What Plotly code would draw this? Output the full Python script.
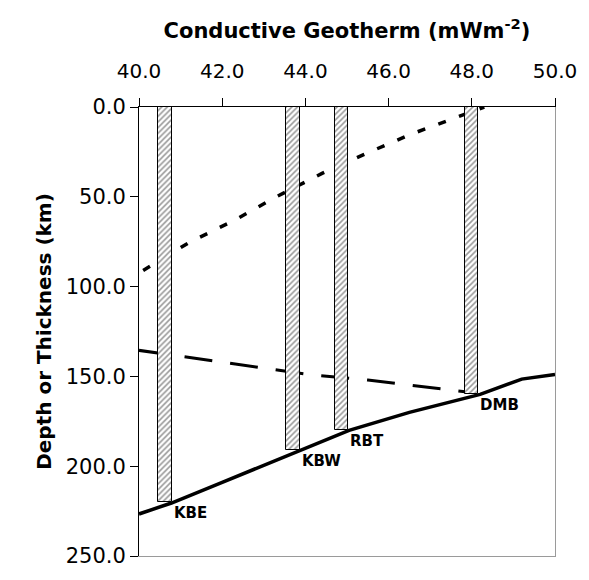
import plotly.graph_objects as go

# Bars (localities): heat flow vs depth
site_names = ["KBE", "KBW", "RBT", "DMB"]
site_heatflow = [40.62, 43.71, 44.87, 47.99]
site_depth = [220.0, 191.0, 180.0, 160.0]

# Solid line
solid_x = [40.0, 40.78, 42.0, 43.9, 45.05, 46.5, 48.2, 49.2, 50.0]
solid_y = [226.6, 220.5, 209.0, 191.0, 180.0, 170.0, 160.0, 151.5, 149.0]

# Dotted line
dot_x = [40.1, 41.2, 42.3, 43.3, 44.4, 45.4, 46.5, 47.6, 48.3]
dot_y = [91.0, 75.5, 63.0, 50.0, 37.0, 26.5, 15.5, 6.0, 0.0]

# Dashed line
dash_x = [40.0, 40.45, 41.1, 42.8, 44.1, 45.5, 47.0, 48.0]
dash_y = [135.5, 137.0, 139.3, 144.7, 149.0, 152.0, 156.0, 159.0]

x_ticks = [40, 42, 44, 46, 48, 50]
y_ticks = [0, 50, 100, 150, 200, 250]

BAR_W = 0.33
FONT = "DejaVu Sans, Arial, sans-serif"

fig = go.Figure()

fig.add_trace(go.Scatter(x=dot_x, y=dot_y, mode="lines",
                         line=dict(color="black", width=3.5, dash="8px,14px"),
                         showlegend=False))
fig.add_trace(go.Scatter(x=dash_x, y=dash_y, mode="lines",
                         line=dict(color="black", width=3, dash="28px,18px"),
                         showlegend=False))
fig.add_trace(go.Scatter(x=solid_x, y=solid_y, mode="lines",
                         line=dict(color="black", width=3.5),
                         showlegend=False))

fig.add_trace(go.Bar(x=site_heatflow, y=site_depth, base=0, width=BAR_W,
                     xaxis="x2", yaxis="y2",
                     marker=dict(color="white",
                                 line=dict(color="black", width=1),
                                 pattern=dict(shape="/", fgcolor="#333333",
                                              bgcolor="white", size=4,
                                              solidity=0.4)),
                     showlegend=False))

for name, hx, d in zip(site_names, site_heatflow, site_depth):
    fig.add_annotation(x=hx + BAR_W / 2, y=d, text="<b>%s</b>" % name,
                       xref="x", yref="y", xanchor="left", yanchor="top",
                       showarrow=False,
                       font=dict(family=FONT, size=15, color="black"))

fig.update_layout(
    width=581, height=572,
    margin=dict(l=131, r=24, t=99, b=16),
    paper_bgcolor="white", plot_bgcolor="white",
    font=dict(family=FONT, color="black"),
    bargap=0,
    xaxis=dict(side="top", range=[40, 50], tickvals=x_ticks,
               ticktext=["%.1f" % v for v in x_ticks],
               ticks="outside", ticklen=8, tickcolor="black", tickwidth=1,
               ticklabelstandoff=12,
               showline=True, linecolor="black", linewidth=1,
               showgrid=False, zeroline=False,
               tickfont=dict(size=20),
               title=dict(text="<b>Conductive Geotherm (mWm<sup>-2</sup>)</b>",
                          font=dict(size=21), standoff=14)),
    yaxis=dict(range=[250, 0], tickvals=y_ticks,
               ticktext=["%.1f" % v for v in y_ticks],
               ticks="outside", ticklen=8, tickcolor="black", tickwidth=1,
               showline=True, linecolor="black", linewidth=1,
               showgrid=False, zeroline=False,
               tickfont=dict(size=21),
               title=dict(text="<b>Depth or Thickness (km)</b>",
                          font=dict(size=20), standoff=8)),
    xaxis2=dict(overlaying="x", side="bottom", range=[40, 50],
                showline=True, linecolor="#9a9a9a", linewidth=1,
                showticklabels=False, ticks="", showgrid=False, zeroline=False),
    yaxis2=dict(overlaying="y", side="right", range=[250, 0],
                showline=True, linecolor="#9a9a9a", linewidth=1,
                showticklabels=False, ticks="", showgrid=False, zeroline=False),
)

fig.write_html("out.html")
